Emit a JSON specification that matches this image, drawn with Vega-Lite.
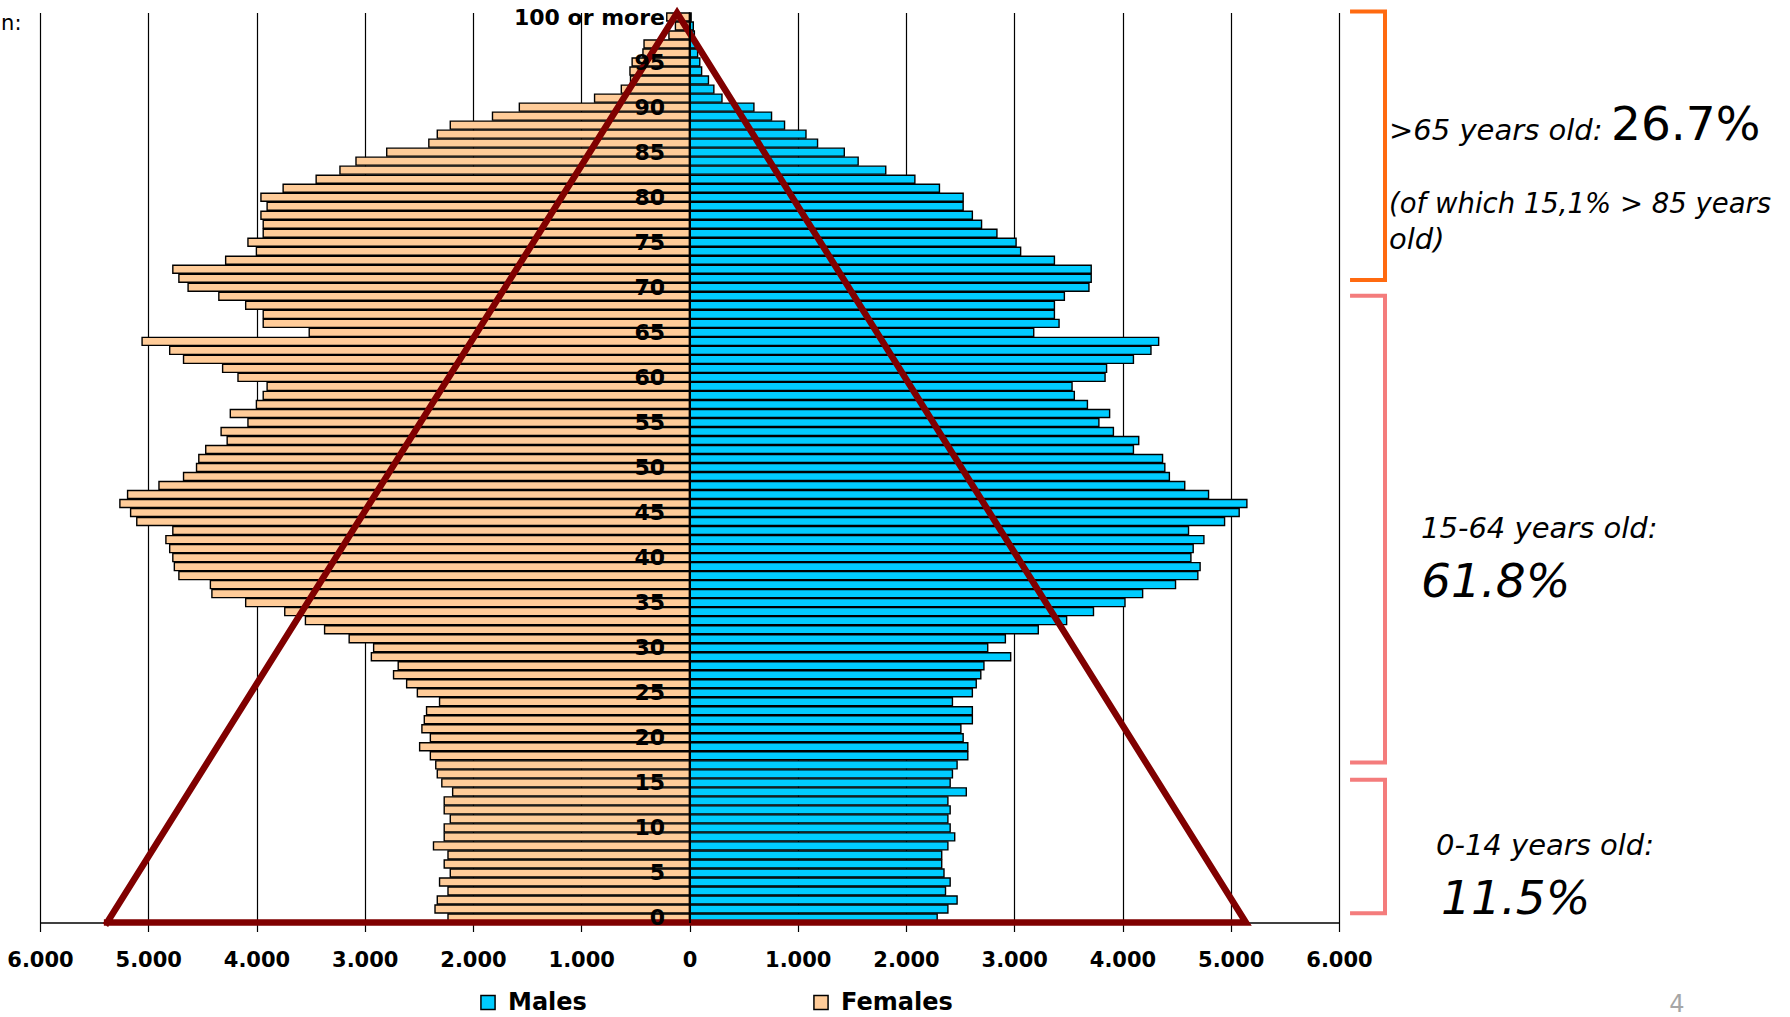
{
"$schema": "https://vega.github.io/schema/vega-lite/v6.json",
"width": 1299,
"height": 910,
"autosize": {"type": "none"},
"padding": {"left": 40, "top": 12.5, "right": 451, "bottom": 94.5},
"background": "white",
"config": {"view": {"stroke": null}},
"data": {"values": [
{"age":0,"sex":"Males","pop":2288},{"age":0,"sex":"Females","pop":2231},
{"age":1,"sex":"Males","pop":2387},{"age":1,"sex":"Females","pop":2351},
{"age":2,"sex":"Males","pop":2472},{"age":2,"sex":"Females","pop":2330},
{"age":3,"sex":"Males","pop":2365},{"age":3,"sex":"Females","pop":2231},
{"age":4,"sex":"Males","pop":2408},{"age":4,"sex":"Females","pop":2309},
{"age":5,"sex":"Males","pop":2351},{"age":5,"sex":"Females","pop":2210},
{"age":6,"sex":"Males","pop":2330},{"age":6,"sex":"Females","pop":2266},
{"age":7,"sex":"Males","pop":2330},{"age":7,"sex":"Females","pop":2231},
{"age":8,"sex":"Males","pop":2387},{"age":8,"sex":"Females","pop":2365},
{"age":9,"sex":"Males","pop":2450},{"age":9,"sex":"Females","pop":2266},
{"age":10,"sex":"Males","pop":2408},{"age":10,"sex":"Females","pop":2266},
{"age":11,"sex":"Males","pop":2387},{"age":11,"sex":"Females","pop":2210},
{"age":12,"sex":"Males","pop":2408},{"age":12,"sex":"Females","pop":2266},
{"age":13,"sex":"Males","pop":2387},{"age":13,"sex":"Females","pop":2266},
{"age":14,"sex":"Males","pop":2557},{"age":14,"sex":"Females","pop":2188},
{"age":15,"sex":"Males","pop":2408},{"age":15,"sex":"Females","pop":2288},
{"age":16,"sex":"Males","pop":2429},{"age":16,"sex":"Females","pop":2330},
{"age":17,"sex":"Males","pop":2472},{"age":17,"sex":"Females","pop":2344},
{"age":18,"sex":"Males","pop":2571},{"age":18,"sex":"Females","pop":2394},
{"age":19,"sex":"Males","pop":2571},{"age":19,"sex":"Females","pop":2493},
{"age":20,"sex":"Males","pop":2528},{"age":20,"sex":"Females","pop":2394},
{"age":21,"sex":"Males","pop":2507},{"age":21,"sex":"Females","pop":2472},
{"age":22,"sex":"Males","pop":2613},{"age":22,"sex":"Females","pop":2450},
{"age":23,"sex":"Males","pop":2613},{"age":23,"sex":"Females","pop":2429},
{"age":24,"sex":"Males","pop":2429},{"age":24,"sex":"Females","pop":2309},
{"age":25,"sex":"Males","pop":2613},{"age":25,"sex":"Females","pop":2514},
{"age":26,"sex":"Males","pop":2649},{"age":26,"sex":"Females","pop":2613},
{"age":27,"sex":"Males","pop":2691},{"age":27,"sex":"Females","pop":2734},
{"age":28,"sex":"Males","pop":2720},{"age":28,"sex":"Females","pop":2691},
{"age":29,"sex":"Males","pop":2967},{"age":29,"sex":"Females","pop":2939},
{"age":30,"sex":"Males","pop":2755},{"age":30,"sex":"Females","pop":2918},
{"age":31,"sex":"Males","pop":2918},{"age":31,"sex":"Females","pop":3144},
{"age":32,"sex":"Males","pop":3222},{"age":32,"sex":"Females","pop":3371},
{"age":33,"sex":"Males","pop":3484},{"age":33,"sex":"Females","pop":3548},
{"age":34,"sex":"Males","pop":3732},{"age":34,"sex":"Females","pop":3739},
{"age":35,"sex":"Males","pop":4023},{"age":35,"sex":"Females","pop":4100},
{"age":36,"sex":"Males","pop":4186},{"age":36,"sex":"Females","pop":4412},
{"age":37,"sex":"Males","pop":4490},{"age":37,"sex":"Females","pop":4426},
{"age":38,"sex":"Males","pop":4696},{"age":38,"sex":"Females","pop":4717},
{"age":39,"sex":"Males","pop":4717},{"age":39,"sex":"Females","pop":4759},
{"age":40,"sex":"Males","pop":4632},{"age":40,"sex":"Females","pop":4773},
{"age":41,"sex":"Males","pop":4653},{"age":41,"sex":"Females","pop":4802},
{"age":42,"sex":"Males","pop":4752},{"age":42,"sex":"Females","pop":4837},
{"age":43,"sex":"Males","pop":4610},{"age":43,"sex":"Females","pop":4773},
{"age":44,"sex":"Males","pop":4943},{"age":44,"sex":"Females","pop":5106},
{"age":45,"sex":"Males","pop":5078},{"age":45,"sex":"Females","pop":5163},
{"age":46,"sex":"Males","pop":5149},{"age":46,"sex":"Females","pop":5262},
{"age":47,"sex":"Males","pop":4795},{"age":47,"sex":"Females","pop":5191},
{"age":48,"sex":"Males","pop":4575},{"age":48,"sex":"Females","pop":4901},
{"age":49,"sex":"Males","pop":4433},{"age":49,"sex":"Females","pop":4674},
{"age":50,"sex":"Males","pop":4391},{"age":50,"sex":"Females","pop":4554},
{"age":51,"sex":"Males","pop":4370},{"age":51,"sex":"Females","pop":4533},
{"age":52,"sex":"Males","pop":4101},{"age":52,"sex":"Females","pop":4469},
{"age":53,"sex":"Males","pop":4150},{"age":53,"sex":"Females","pop":4271},
{"age":54,"sex":"Males","pop":3916},{"age":54,"sex":"Females","pop":4327},
{"age":55,"sex":"Males","pop":3782},{"age":55,"sex":"Females","pop":4079},
{"age":56,"sex":"Males","pop":3881},{"age":56,"sex":"Females","pop":4242},
{"age":57,"sex":"Males","pop":3676},{"age":57,"sex":"Females","pop":4001},
{"age":58,"sex":"Males","pop":3555},{"age":58,"sex":"Females","pop":3938},
{"age":59,"sex":"Males","pop":3534},{"age":59,"sex":"Females","pop":3902},
{"age":60,"sex":"Males","pop":3839},{"age":60,"sex":"Females","pop":4171},
{"age":61,"sex":"Males","pop":3853},{"age":61,"sex":"Females","pop":4313},
{"age":62,"sex":"Males","pop":4101},{"age":62,"sex":"Females","pop":4674},
{"age":63,"sex":"Males","pop":4263},{"age":63,"sex":"Females","pop":4802},
{"age":64,"sex":"Males","pop":4334},{"age":64,"sex":"Females","pop":5057},
{"age":65,"sex":"Males","pop":3180},{"age":65,"sex":"Females","pop":3513},
{"age":66,"sex":"Males","pop":3414},{"age":66,"sex":"Females","pop":3938},
{"age":67,"sex":"Males","pop":3371},{"age":67,"sex":"Females","pop":3938},
{"age":68,"sex":"Males","pop":3371},{"age":68,"sex":"Females","pop":4100},
{"age":69,"sex":"Males","pop":3463},{"age":69,"sex":"Females","pop":4348},
{"age":70,"sex":"Males","pop":3690},{"age":70,"sex":"Females","pop":4632},
{"age":71,"sex":"Males","pop":3711},{"age":71,"sex":"Females","pop":4717},
{"age":72,"sex":"Males","pop":3711},{"age":72,"sex":"Females","pop":4773},
{"age":73,"sex":"Males","pop":3371},{"age":73,"sex":"Females","pop":4285},
{"age":74,"sex":"Males","pop":3059},{"age":74,"sex":"Females","pop":4001},
{"age":75,"sex":"Males","pop":3017},{"age":75,"sex":"Females","pop":4079},
{"age":76,"sex":"Males","pop":2840},{"age":76,"sex":"Females","pop":3938},
{"age":77,"sex":"Males","pop":2698},{"age":77,"sex":"Females","pop":3938},
{"age":78,"sex":"Males","pop":2613},{"age":78,"sex":"Females","pop":3959},
{"age":79,"sex":"Males","pop":2528},{"age":79,"sex":"Females","pop":3902},
{"age":80,"sex":"Males","pop":2528},{"age":80,"sex":"Females","pop":3959},
{"age":81,"sex":"Males","pop":2309},{"age":81,"sex":"Females","pop":3754},
{"age":82,"sex":"Males","pop":2082},{"age":82,"sex":"Females","pop":3449},
{"age":83,"sex":"Males","pop":1813},{"age":83,"sex":"Females","pop":3229},
{"age":84,"sex":"Males","pop":1558},{"age":84,"sex":"Females","pop":3081},
{"age":85,"sex":"Males","pop":1430},{"age":85,"sex":"Females","pop":2797},
{"age":86,"sex":"Males","pop":1183},{"age":86,"sex":"Females","pop":2408},
{"age":87,"sex":"Males","pop":1076},{"age":87,"sex":"Females","pop":2330},
{"age":88,"sex":"Males","pop":878},{"age":88,"sex":"Females","pop":2210},
{"age":89,"sex":"Males","pop":758},{"age":89,"sex":"Females","pop":1820},
{"age":90,"sex":"Males","pop":595},{"age":90,"sex":"Females","pop":1572},
{"age":91,"sex":"Males","pop":300},{"age":91,"sex":"Females","pop":877},
{"age":92,"sex":"Males","pop":225},{"age":92,"sex":"Females","pop":630},
{"age":93,"sex":"Males","pop":175},{"age":93,"sex":"Females","pop":545},
{"age":94,"sex":"Males","pop":112},{"age":94,"sex":"Females","pop":550},
{"age":95,"sex":"Males","pop":95},{"age":95,"sex":"Females","pop":530},
{"age":96,"sex":"Males","pop":75},{"age":96,"sex":"Females","pop":430},
{"age":97,"sex":"Males","pop":60},{"age":97,"sex":"Females","pop":420},
{"age":98,"sex":"Males","pop":45},{"age":98,"sex":"Females","pop":190},
{"age":99,"sex":"Males","pop":35},{"age":99,"sex":"Females","pop":130},
{"age":100,"sex":"Males","pop":15},{"age":100,"sex":"Females","pop":210}
]},
"encoding": {
  "y": {"field": "age", "type": "quantitative",
    "scale": {"domain": [-0.5, 100.5], "nice": false, "zero": false, "padding": 0},
    "axis": {"values": [0,5,10,15,20,25,30,35,40,45,50,55,60,65,70,75,80,85,90,95,100],
      "labelExpr": "datum.value == 100 ? '100 or more' : datum.label",
      "offset": -649.5, "ticks": false, "tickSize": 0, "grid": false,
      "domainColor": "black", "domainWidth": 2,
      "labelFont": "DejaVu Sans", "labelFontWeight": "bold", "labelFontSize": 22, "labelColor": "black",
      "labelPadding": 25, "labelOverlap": false, "labelFlush": false, "labelBaseline": "middle",
      "title": null, "zindex": 1}}
},
"resolve": {"scale": {"x": "independent"}},
"layer": [
  {
    "transform": [{"filter": {"field": "sex", "equal": "Females"}}],
    "mark": {"type": "bar", "orient": "horizontal", "height": 8, "stroke": "black", "strokeWidth": 1.4},
    "encoding": {
      "x": {"field": "pop", "type": "quantitative", "scale": {"domain": [-6000, 6000], "reverse": true, "nice": false, "zero": false}, "axis": null},
      "x2": {"datum": 0},
      "color": {"field": "sex", "type": "nominal", "scale": {"domain": ["Males", "Females"], "range": ["#00CCFF", "#FFCC99"]}}
    }
  },
  {
    "transform": [{"filter": {"field": "sex", "equal": "Males"}}],
    "mark": {"type": "bar", "orient": "horizontal", "height": 8, "stroke": "black", "strokeWidth": 1.4},
    "encoding": {
      "x": {"field": "pop", "type": "quantitative", "scale": {"domain": [-6000, 6000], "nice": false, "zero": false},
        "axis": {"values": [-6000,-5000,-4000,-3000,-2000,-1000,0,1000,2000,3000,4000,5000,6000],
          "labelExpr": "replace(format(abs(datum.value), ','), ',', '.')",
          "grid": true, "gridColor": "black", "gridWidth": 1.2, "gridOpacity": 1,
          "domainColor": "black", "domainWidth": 1.5,
          "tickColor": "black", "tickSize": 9, "tickWidth": 1.2,
          "labelFont": "DejaVu Sans", "labelFontWeight": "bold", "labelFontSize": 21, "labelColor": "black",
          "labelPadding": 18, "labelOverlap": false, "labelFlush": false, "title": null}},
      "x2": {"datum": 0},
      "color": {"field": "sex", "type": "nominal", "scale": {"domain": ["Males", "Females"], "range": ["#00CCFF", "#FFCC99"]},
        "legend": {"orient": "none", "legendX": 436, "legendY": 978, "direction": "horizontal", "title": null,
          "symbolType": "square", "symbolSize": 200, "symbolStrokeColor": "black", "symbolStrokeWidth": 1.5,
          "labelFont": "DejaVu Sans", "labelFontWeight": "bold", "labelFontSize": 24, "labelColor": "black",
          "labelOffset": 8, "columnPadding": 222, "padding": 0}}
    }
  },
  {
    "data": {"values": [
      {"vertex": 1, "x": -5380, "age": -0.5},
      {"vertex": 2, "x": -115, "age": 100.45},
      {"vertex": 3, "x": 5140, "age": -0.5},
      {"vertex": 4, "x": -5380, "age": -0.5}
    ]},
    "mark": {"type": "line", "color": "#800000", "strokeWidth": 6.5, "strokeJoin": "miter", "strokeMiterLimit": 20, "strokeCap": "square"},
    "encoding": {
      "x": {"field": "x", "type": "quantitative", "scale": {"domain": [-6000, 6000], "nice": false, "zero": false}, "axis": null},
      "order": {"field": "vertex", "type": "quantitative"}
    }
  },
  {
    "data": {"values": [
      {"pt": 1, "x": 6102, "age": 100.6},
      {"pt": 2, "x": 6425, "age": 100.6},
      {"pt": 3, "x": 6425, "age": 70.8},
      {"pt": 4, "x": 6102, "age": 70.8}
    ]},
    "mark": {"type": "line", "color": "#FF6A10", "strokeWidth": 4, "strokeJoin": "miter"},
    "encoding": {
      "x": {"field": "x", "type": "quantitative", "scale": {"domain": [-6000, 6000], "nice": false, "zero": false}, "axis": null},
      "order": {"field": "pt", "type": "quantitative"}
    }
  },
  {
    "data": {"values": [
      {"bracket": "15-64", "pt": 1, "x": 6102, "age": 69.07},
      {"bracket": "15-64", "pt": 2, "x": 6425, "age": 69.07},
      {"bracket": "15-64", "pt": 3, "x": 6425, "age": 17.25},
      {"bracket": "15-64", "pt": 4, "x": 6102, "age": 17.25},
      {"bracket": "0-14", "pt": 1, "x": 6102, "age": 15.35},
      {"bracket": "0-14", "pt": 2, "x": 6425, "age": 15.35},
      {"bracket": "0-14", "pt": 3, "x": 6425, "age": 0.52},
      {"bracket": "0-14", "pt": 4, "x": 6102, "age": 0.52}
    ]},
    "mark": {"type": "line", "color": "#F47C7C", "strokeWidth": 4, "strokeJoin": "miter"},
    "encoding": {
      "x": {"field": "x", "type": "quantitative", "scale": {"domain": [-6000, 6000], "nice": false, "zero": false}, "axis": null},
      "detail": {"field": "bracket", "type": "nominal"},
      "order": {"field": "pt", "type": "quantitative"}
    }
  },
  {
    "data": {"values": [
      {"label": ">65 years old:", "x": 6462, "age": 86.4},
      {"label": "old)", "x": 6462, "age": 74.2},
      {"label": "15-64 years old:", "x": 6758, "age": 42.2},
      {"label": "0-14 years old:", "x": 6896, "age": 7.0}
    ]},
    "mark": {"type": "text", "font": "DejaVu Sans", "fontStyle": "italic", "fontSize": 29, "align": "left", "baseline": "alphabetic", "color": "black"},
    "encoding": {
      "x": {"field": "x", "type": "quantitative", "scale": {"domain": [-6000, 6000], "nice": false, "zero": false}, "axis": null},
      "text": {"field": "label", "type": "nominal"}
    }
  },
  {
    "data": {"values": [
      {"label": "(of which 15,1% > 85 years", "x": 6462, "age": 78.3}
    ]},
    "mark": {"type": "text", "font": "DejaVu Sans", "fontStyle": "italic", "fontSize": 27.5, "align": "left", "baseline": "alphabetic", "color": "black"},
    "encoding": {
      "x": {"field": "x", "type": "quantitative", "scale": {"domain": [-6000, 6000], "nice": false, "zero": false}, "axis": null},
      "text": {"field": "label", "type": "nominal"}
    }
  },
  {
    "data": {"values": [
      {"label": "26.7%", "x": 8513, "age": 86.4}
    ]},
    "mark": {"type": "text", "font": "DejaVu Sans", "fontSize": 47, "align": "left", "baseline": "alphabetic", "color": "black"},
    "encoding": {
      "x": {"field": "x", "type": "quantitative", "scale": {"domain": [-6000, 6000], "nice": false, "zero": false}, "axis": null},
      "text": {"field": "label", "type": "nominal"}
    }
  },
  {
    "data": {"values": [
      {"label": "61.8%", "x": 6758, "age": 35.6},
      {"label": "11.5%", "x": 6943, "age": 0.44}
    ]},
    "mark": {"type": "text", "font": "DejaVu Sans", "fontStyle": "italic", "fontSize": 47, "align": "left", "baseline": "alphabetic", "color": "black"},
    "encoding": {
      "x": {"field": "x", "type": "quantitative", "scale": {"domain": [-6000, 6000], "nice": false, "zero": false}, "axis": null},
      "text": {"field": "label", "type": "nominal"}
    }
  },
  {
    "data": {"values": [
      {"label": "4", "x": 9122, "age": -10.4}
    ]},
    "mark": {"type": "text", "font": "DejaVu Sans", "fontSize": 24, "align": "center", "baseline": "alphabetic", "color": "#A6A6A6"},
    "encoding": {
      "x": {"field": "x", "type": "quantitative", "scale": {"domain": [-6000, 6000], "nice": false, "zero": false}, "axis": null},
      "text": {"field": "label", "type": "nominal"}
    }
  },
  {
    "data": {"values": [
      {"label": "n:", "x": -6171, "age": 98.6}
    ]},
    "mark": {"type": "text", "font": "DejaVu Sans", "fontSize": 21, "align": "right", "baseline": "alphabetic", "color": "black"},
    "encoding": {
      "x": {"field": "x", "type": "quantitative", "scale": {"domain": [-6000, 6000], "nice": false, "zero": false}, "axis": null},
      "text": {"field": "label", "type": "nominal"}
    }
  }
]
}
